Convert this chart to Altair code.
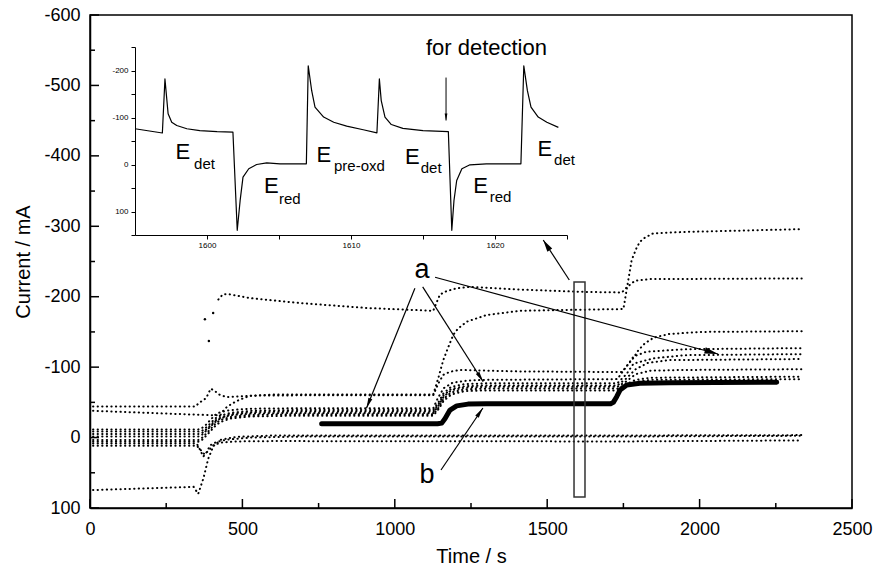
import math
import altair as alt
import pandas as pd

FONT = "Liberation Sans"
W, H = 762, 493
XD = [0, 2500]
YD = [-600, 100]

# ---------------- main chart data (time / s, current / mA) ----------------
r1_t = [10, 345, 359, 381, 396, 410, 424, 448, 514, 600, 1126, 1143, 1159, 1176, 1192, 1208, 1236, 1301, 1411, 1600, 1750, 1777, 1793, 1804, 1821, 1848, 1950, 2150, 2335]
r1_v = [-44, -44, -49.5, -56, -69.5, -66, -61, -57.5, -59, -61, -61, -85, -110, -129, -146, -155, -164.5, -174, -180, -181.5, -182.5, -252, -269, -278, -284, -290, -292, -294, -296]

r2_t = [10, 350, 427, 435, 448, 465, 487, 525, 700, 1126, 1143, 1159, 1181, 1214, 1400, 1745, 1783, 1799, 1821, 1850, 1900, 2000, 2335]
r2_v = [-38, -32.5, -31.5, -37, -43, -48, -53, -59.5, -60, -60, -77, -89, -93.5, -96, -94, -93, -113, -124, -134, -142, -147, -150, -151]

r3_t = [10, 355, 366, 380, 395, 410, 427, 460, 525, 656, 1126, 1140, 1160, 1190, 1240, 1300, 1730, 1760, 1783, 1826, 1957, 2335]
r3_v = [-11.5, -11.5, -13, -18, -25, -32, -36, -39, -41, -41.5, -41.5, -55, -70, -78, -81, -82, -83, -101, -115, -122, -125.5, -127]

r4_t = [10, 355, 366, 380, 395, 410, 427, 460, 525, 656, 1126, 1143, 1160, 1185, 1230, 1300, 1730, 1760, 1783, 1849, 1950, 2335]
r4_v = [-8.5, -8.5, -9, -14, -20, -27, -31, -35, -38, -39, -39, -50, -63, -72, -76, -77, -77, -90, -105, -112.5, -117, -118.5]

r5_t = [10, 355, 366, 380, 395, 410, 427, 460, 525, 656, 1126, 1143, 1160, 1185, 1230, 1300, 1730, 1760, 1790, 1830, 1900, 2335]
r5_v = [-5, -5, -6, -11, -17, -24, -28, -33, -36, -37, -37, -47, -60, -69, -73, -74, -74, -84, -97, -106, -110, -111.5]

r6_t = [10, 355, 366, 377, 394, 410, 427, 459, 525, 656, 1126, 1143, 1160, 1185, 1230, 1300, 1730, 1760, 1790, 1840, 1950, 2335]
r6_v = [-1.5, -1.5, -3.2, -8, -15, -22, -27, -31.6, -34, -35, -35, -45, -58, -67, -71, -72, -72, -80, -90, -95, -96, -97]

r7_t = [10, 355, 366, 380, 395, 410, 427, 460, 525, 656, 1126, 1143, 1160, 1185, 1230, 1300, 1730, 1760, 1790, 1840, 2335]
r7_v = [3.5, 3.5, 1, -5, -12, -19, -25, -29, -32, -33, -33, -42, -55, -64, -68.5, -69.5, -69.5, -76, -82, -85, -86.5]

r8_t = [10, 355, 366, 380, 395, 410, 427, 460, 525, 656, 1126, 1143, 1160, 1185, 1230, 1300, 1730, 1760, 1790, 1840, 2335]
r8_v = [6, 6, 4, -2, -9, -16, -22, -27, -30, -31, -31, -40, -52, -61, -66, -67, -67, -73, -79, -82, -83]

r9_t = [10, 350, 356, 372, 383, 394, 416, 448, 525, 700, 1750, 2335]
r9_v = [8.5, 8.5, 13, 27, 20.5, 11, 6, 3, 0, -1.5, -1.5, -2.5]

r10_t = [10, 350, 360, 376, 390, 405, 430, 480, 600, 1750, 2335]
r10_v = [11.5, 11.5, 16, 24, 18, 11, 7, 5.5, 5, 5.5, 4]

r11_t = [10, 340, 355, 372, 388, 405, 430, 480, 600, 1750, 2335]
r11_v = [74.5, 70, 80, 58, 30, 12, 3, -1, -3, -3, -3.5]

s1_t = [421, 435, 450, 525, 690, 908, 1126, 1148, 1170, 1203, 1247, 1390, 1608, 1745, 1760, 1788, 1837, 2335]
s1_v = [-196, -203, -204, -198, -191, -184, -180, -203, -208, -212, -214, -210.5, -207, -206, -213, -222.7, -225, -226]

# isolated transient points
iso_t = [377, 390, 404]
iso_v = [-168, -137, -177]

# thick curve "b"
b_t = [760, 1140, 1154, 1165, 1181, 1203, 1240, 1300, 1708, 1717, 1728, 1739, 1761, 1804, 1900, 2253]
b_v = [-19.5, -19.5, -20.5, -27, -39, -45, -47.5, -48, -48, -50, -58, -67.5, -74.5, -77, -78, -78.5]

# ---------------- inset data ----------------
ins_t = [1595.0, 1596.9, 1597.08, 1597.3, 1597.55, 1597.9, 1598.6, 1599.5, 1600.7, 1601.8,
         1602.1, 1602.3, 1602.5, 1602.9, 1603.45, 1604.15, 1605.07, 1606.9, 1607.03, 1607.27,
         1607.5, 1608.1, 1608.8, 1609.7, 1610.85, 1611.8, 1611.97, 1612.1, 1612.36, 1612.8,
         1613.6, 1615.0, 1616.76, 1617.0, 1617.15, 1617.34, 1617.7, 1618.26, 1619.4, 1621.8,
         1622.0, 1622.25, 1622.5, 1623.0, 1623.6, 1624.4]
ins_v = [-76, -67, -182, -108, -90, -83, -76, -72, -70, -69,
         140, 77, 27, 9, 0, -3.5, -1.4, -1.4, -210, -157,
         -122, -101, -90, -81.6, -74, -67.4, -182, -136, -101, -85,
         -77, -72, -70, 140, 77, 34, 9, 0.7, -1.4, -1.4,
         -210, -157, -122, -101, -90, -79]

E_t = [1597.82, 1603.96, 1607.61, 1613.75, 1618.49, 1622.96]
E_v = [-12.1, 61.7, -4.9, -1.5, 61, -19.1]
sub_t = [1599.1, 1605.0, 1608.82, 1614.84, 1619.63, 1624.1]
sub_v = [9.1, 83, 13.8, 18.5, 80, 0.6]
sub_txt = ["det", "red", "pre-oxd", "det", "red", "det"]

# tick values
x_major = [0, 500, 1000, 1500, 2000, 2500]
x_minor = [250, 750, 1250, 1750, 2250]
y_major = [-600, -500, -400, -300, -200, -100, 0, 100]
y_minor = [-550, -450, -350, -250, -150, -50, 50]

# ---------------- build tables ----------------
series = {
    "r1": (r1_t, r1_v), "r2": (r2_t, r2_v), "r3": (r3_t, r3_v), "r4": (r4_t, r4_v),
    "r5": (r5_t, r5_v), "r6": (r6_t, r6_v), "r7": (r7_t, r7_v), "r8": (r8_t, r8_v),
    "r9": (r9_t, r9_v), "r10": (r10_t, r10_v), "r11": (r11_t, r11_v), "s1": (s1_t, s1_v),
}
dots_df = pd.concat(
    [pd.DataFrame({"t": ts, "v": vs, "series": k, "i": list(range(len(ts)))}) for k, (ts, vs) in series.items()],
    ignore_index=True,
)
iso_df = pd.DataFrame({"t": iso_t, "v": iso_v})
b_df = pd.DataFrame({"t": b_t, "v": b_v, "i": list(range(len(b_t)))})
ins_df = pd.DataFrame({"it": ins_t, "iv": ins_v, "i": list(range(len(ins_t)))})


def pxdx(t1, t2):
    return (t2 - t1) * W / (XD[1] - XD[0])


def pxdy(v1, v2):
    return (v2 - v1) * H / (YD[1] - YD[0])


def ang(dx, dy):
    return math.degrees(math.atan2(dx, -dy)) % 360


NARROW = "M0,0L-0.4,2L0.4,2Z"
WIDE = "M0,0L-0.48,2L0.48,2Z"

# annotation arrows (start -> tip) in main data coordinates
arrows = [
    (1066, -212, 907, -41.6, NARROW, 110),
    (1091.5, -214, 1290, -79.3, NARROW, 110),
    (1132, -227.6, 2060, -118.7, WIDE, 180),
    (1151.6, 46, 1289, -42, NARROW, 110),
    (1572.5, -223.7, 1487, -280.5, WIDE, 144),
]
arr_df = pd.DataFrame([{"t": a[0], "v": a[1], "t2": a[2], "v2": a[3]} for a in arrows])
head_df = pd.DataFrame([
    {"t": a[2], "v": a[3], "ang": ang(pxdx(a[0], a[2]), pxdy(a[1], a[3])), "shp": a[4], "sz": a[5]}
    for a in arrows
])

rect_df = pd.DataFrame({"t": [1588], "t2": [1624], "v": [-221], "v2": [84.4]})
lab_df = pd.DataFrame({"t": [1089, 1106], "v": [-226.6, 64.5], "label": ["a", "b"]})

xt_major = pd.DataFrame({"t": x_major})
xt_minor = pd.DataFrame({"t": x_minor})
yt_major = pd.DataFrame({"v": y_major})
yt_minor = pd.DataFrame({"v": y_minor})

# ---------------- encodings ----------------
x_axis = alt.Axis(values=x_major, ticks=False, grid=False, labelFont=FONT, labelFontSize=18,
                  labelColor="black", labelPadding=12, labelExpr="'' + datum.value", labelFlush=False,
                  labelOverlap=False, domainColor="black", domainWidth=1.5, title="Time / s",
                  titleFont=FONT, titleFontSize=20, titleFontWeight="normal", titleColor="black",
                  titlePadding=8)
y_axis = alt.Axis(values=y_major, ticks=False, grid=False, labelFont=FONT, labelFontSize=18,
                  labelColor="black", labelPadding=10, labelExpr="'' + datum.value", labelFlush=False,
                  labelOverlap=False, domainColor="black", domainWidth=1.5, title="Current / mA",
                  titleFont=FONT, titleFontSize=20, titleFontWeight="normal", titleColor="black",
                  titlePadding=10)

X = alt.X("t:Q", scale=alt.Scale(domain=XD, nice=False, zero=False), axis=x_axis)
Y = alt.Y("v:Q", scale=alt.Scale(domain=YD, reverse=True, nice=False, zero=False), axis=y_axis)

dots = alt.Chart(dots_df).mark_line(
    color="black", strokeWidth=2.0, strokeCap="round", strokeDash=[0.3, 4.27]
).encode(x=X, y=Y, detail="series:N", order="i:Q")

iso = alt.Chart(iso_df).mark_circle(color="black", size=6, opacity=1).encode(x=X, y=Y)

thick = alt.Chart(b_df).mark_line(
    color="black", strokeWidth=5, strokeCap="round", strokeJoin="round"
).encode(x=X, y=Y, order="i:Q")

rect = alt.Chart(rect_df).mark_rect(fillOpacity=0, stroke="#333333", strokeWidth=1.5).encode(
    x=X, x2=alt.X2("t2:Q"), y=Y, y2=alt.Y2("v2:Q"))

arr = alt.Chart(arr_df).mark_rule(color="black", strokeWidth=1.2).encode(
    x=X, y=Y, x2=alt.X2("t2:Q"), y2=alt.Y2("v2:Q"))

heads = alt.Chart(head_df).mark_point(filled=True, color="black", opacity=1).encode(
    x=X, y=Y, angle=alt.Angle("ang:Q", scale=None), shape=alt.Shape("shp:N", scale=None),
    size=alt.Size("sz:Q", scale=None))

labels = alt.Chart(lab_df).mark_text(font=FONT, fontSize=27, align="center", baseline="alphabetic",
                                      color="black").encode(x=X, y=Y, text="label:N")

tx_maj = alt.Chart(xt_major).mark_rule(color="black", strokeWidth=1.5).encode(
    x=X, y=alt.value(H), y2=alt.value(H - 9))
tx_min = alt.Chart(xt_minor).mark_rule(color="black", strokeWidth=1.5).encode(
    x=X, y=alt.value(H), y2=alt.value(H - 5))
ty_maj = alt.Chart(yt_major).mark_rule(color="black", strokeWidth=1.5).encode(
    y=Y, x=alt.value(0), x2=alt.value(9))
ty_min = alt.Chart(yt_minor).mark_rule(color="black", strokeWidth=1.5).encode(
    y=Y, x=alt.value(0), x2=alt.value(5))

main = alt.layer(dots, iso, thick, rect, arr, heads, labels, tx_maj, tx_min, ty_maj, ty_min)

# ---------------- inset ----------------
ix_axis = alt.Axis(orient="bottom", offset=-273, values=[1600, 1605, 1610, 1615, 1620, 1625],
                   labelExpr="datum.value % 10 == 0 ? '' + datum.value : ''", tickSize=4,
                   tickColor="black", tickWidth=1, labelFont=FONT, labelFontSize=8, labelColor="black",
                   labelPadding=2, domainColor="black", domainWidth=1, grid=False, title=None,
                   labelFlush=False)
iy_axis = alt.Axis(orient="left", offset=-45, values=[-250, -200, -150, -100, -50, 0, 50, 100, 150],
                   labelExpr="datum.value % 100 == 0 ? '' + datum.value : ''", tickSize=4,
                   tickColor="black", tickWidth=1, labelFont=FONT, labelFontSize=8, labelColor="black",
                   labelPadding=3, domainColor="black", domainWidth=1, grid=False, title=None,
                   labelFlush=False)
IX = alt.X("it:Q", scale=alt.Scale(domain=[1595, 1625], range=[45, 477], nice=False, zero=False), axis=ix_axis)
IY = alt.Y("iv:Q", scale=alt.Scale(domain=[-250, 150], range=[32, 220], nice=False, zero=False), axis=iy_axis)

ins_line = alt.Chart(ins_df).mark_line(color="black", strokeWidth=1.2, strokeJoin="round").encode(
    x=IX, y=IY, order="i:Q")

e_df = pd.DataFrame({"it": E_t, "iv": E_v, "txt": ["E"] * len(E_t)})
s_df = pd.DataFrame({"it": sub_t, "iv": sub_v, "txt": sub_txt})
fd_df = pd.DataFrame({"it": [1615.2], "iv": [-232], "txt": ["for detection"]})

e_txt = alt.Chart(e_df).mark_text(font=FONT, fontSize=22, align="left", baseline="alphabetic",
                                   color="black").encode(x=IX, y=IY, text="txt:N")
s_txt = alt.Chart(s_df).mark_text(font=FONT, fontSize=15, align="left", baseline="alphabetic",
                                   color="black").encode(x=IX, y=IY, text="txt:N")
fd_txt = alt.Chart(fd_df).mark_text(font=FONT, fontSize=22, align="left", baseline="alphabetic",
                                     color="black").encode(x=IX, y=IY, text="txt:N")

fd_arr_df = pd.DataFrame({"it": [1616.6], "iv": [-185], "it2": [1616.6], "iv2": [-93.6]})
fd_arr = alt.Chart(fd_arr_df).mark_rule(color="black", strokeWidth=1).encode(
    x=IX, y=IY, x2=alt.X2("it2:Q"), y2=alt.Y2("iv2:Q"))
fd_head_df = pd.DataFrame({"it": [1616.6], "iv": [-93.6], "ang": [180.0]})
fd_head = alt.Chart(fd_head_df).mark_point(filled=True, color="black", opacity=1, shape=NARROW, size=49).encode(
    x=IX, y=IY, angle=alt.Angle("ang:Q", scale=None))

inset = alt.layer(ins_line, e_txt, s_txt, fd_txt, fd_arr, fd_head)

chart = alt.layer(main, inset).resolve_scale(x="independent", y="independent").properties(
    width=W, height=H,
    padding={"left": 90, "top": 15, "right": 23, "bottom": 64},
    autosize=alt.AutoSizeParams(type="none"),
    background="white",
).configure_view(stroke="black", strokeWidth=1.5)

chart.save("out.html", embed_options={"renderer": "svg", "actions": False})
